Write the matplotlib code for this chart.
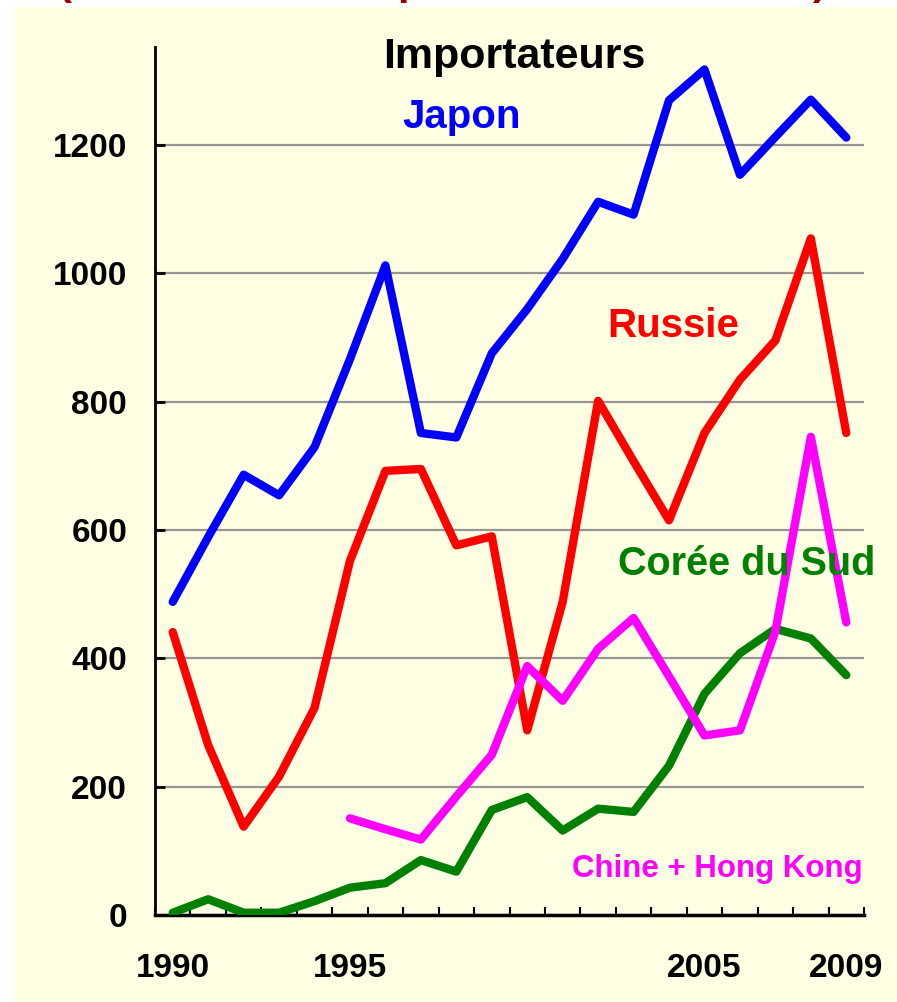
import numpy as np
import matplotlib.pyplot as plt
from matplotlib.patches import Rectangle

years = list(range(1990, 2010))
year_labels = {1990: "1990", 1995: "1995", 2005: "2005", 2009: "2009"}

japon = [488, 589, 686, 654, 729, 866, 1012, 751, 744, 875,
         944, 1022, 1111, 1091, 1269, 1317, 1153, 1212, 1270, 1211]
russie = [441, 265, 138, 216, 323, 552, 692, 695, 576, 590,
          288, 488, 801, 707, 615, 751, 834, 895, 1054, 751]
coree = [4, 25, 4, 4, 22, 43, 50, 86, 68, 164,
         184, 132, 166, 161, 233, 345, 408, 446, 431, 374]
chine_years = list(range(1995, 2010))
chine = [151, 134, 118, 185, 250, 388, 334, 415, 463, 372,
         280, 288, 442, 745, 456]

W, H = 897, 1002
bg = "#FFFFE3"
plt.rcParams['font.family'] = ["Liberation Sans", "DejaVu Sans"]
plt.rcParams['font.weight'] = "bold"

fig = plt.figure(figsize=(W/100, H/100), dpi=100)
fig.patch.set_facecolor("white")
fig.patches.append(Rectangle((15/W, 0), 1, 1 - 7/H, transform=fig.transFigure,
                             facecolor=bg, edgecolor="none", zorder=-10))

# cut-off heading from the slide above
for x, s in [(65, "("), (410, "p"), (820, ")")]:
    fig.text(x/W, 1 + 6/H, s, color="#990000", fontsize=30, ha="center",
             va="baseline", zorder=-20)

ax = fig.add_axes([155/W, 1 - 915.3/H, (864-155)/W, (915.3-47)/H])
ax.set_facecolor("none")

xi = np.arange(len(years))
cx = np.array([years.index(y) for y in chine_years])

ax.plot(xi, japon, color="#0000FF", lw=6, solid_capstyle="round", solid_joinstyle="round", zorder=3)
ax.plot(xi, russie, color="#FF0000", lw=6, solid_capstyle="round", solid_joinstyle="round", zorder=3)
ax.plot(xi, coree, color="#008000", lw=6, solid_capstyle="round", solid_joinstyle="round", zorder=3)
ax.plot(cx, chine, color="#FF00FF", lw=6, solid_capstyle="round", solid_joinstyle="round", zorder=4)

ax.set_xlim(-0.5, len(years) - 0.5)
ax.set_ylim(0, 1352)

ax.set_yticks(range(0, 1201, 200))
ax.set_yticklabels([str(v) for v in range(0, 1201, 200)], fontsize=24, fontweight="bold")
ax.yaxis.grid(True, color="#969696", lw=1.6)
ax.set_axisbelow(True)
ax.tick_params(axis="y", direction="in", length=7, width=2, pad=20)

ax.set_xticks(np.arange(len(years) + 1) - 0.5)
ax.set_xticklabels([])
ax.tick_params(axis="x", which="major", direction="in", length=6, width=1.5)
ax.set_xticks([years.index(y) for y in year_labels], minor=True)
ax.set_xticklabels(list(year_labels.values()), minor=True, fontsize=24, fontweight="bold")
ax.tick_params(axis="x", which="minor", length=0, pad=27)

for s in ["top", "right"]:
    ax.spines[s].set_visible(False)
ax.spines["left"].set_linewidth(2)
ax.spines["bottom"].set_linewidth(2.5)

fig.text(514/W, 1 - 68/H, "Importateurs", fontsize=31, ha="center", va="baseline", color="black")
fig.text(462/W, 1 - 128/H, "Japon", fontsize=29, ha="center", va="baseline", color="#0000FF")
fig.text(673/W, 1 - 337/H, "Russie", fontsize=29, ha="center", va="baseline", color="#FF0000")
fig.text(747/W, 1 - 575/H, "Corée du Sud", fontsize=28.5, ha="center", va="baseline", color="#008000")
fig.text(717/W, 1 - 877/H, "Chine + Hong Kong", fontsize=22.5, ha="center", va="baseline", color="#FF00FF")

fig.savefig("out.png", dpi=100)
